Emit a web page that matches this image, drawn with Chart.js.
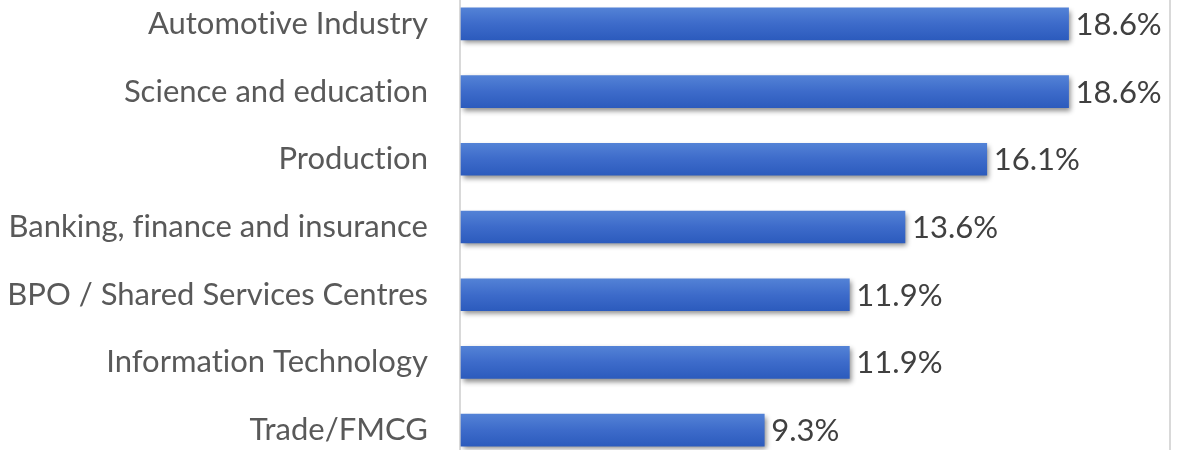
<!DOCTYPE html>
<html>
<head>
<meta charset="utf-8">
<script src="https://cdn.jsdelivr.net/npm/chart.js@4.4.1/dist/chart.umd.min.js"></script>
<style>
  html, body { margin: 0; padding: 0; background: #fff; overflow: hidden; }
  #wrap { position: absolute; left: 0; top: -10px; width: 1179px; height: 474px; }
</style>
</head>
<body>
<div id="wrap"><canvas id="chart"></canvas></div>
<script>
const categories = [
  "Automotive Industry",
  "Science and education",
  "Production",
  "Banking, finance and insurance",
  "BPO / Shared Services Centres",
  "Information Technology",
  "Trade/FMCG"
];
const shares = [18.6, 18.6, 16.1, 13.6, 11.9, 11.9, 9.3];
const xMax = 21.7;

const FONT = "Lato, 'Open Sans', sans-serif";

// gradient per bar, top lighter than bottom
function barFill(c) {
  const chart = c.chart;
  if (!chart.chartArea) return "#3a67c8";
  const y = chart.scales.y.getPixelForValue(c.dataIndex);
  const g = chart.ctx.createLinearGradient(0, y - 16, 0, y + 16);
  g.addColorStop(0, "#5382d6");
  g.addColorStop(0.5, "#3d6bca");
  g.addColorStop(1, "#2c5bbd");
  return g;
}

// no "ti" ligatures, the original font has none
const noLigatures = {
  id: "noLigatures",
  beforeDraw(chart) {
    chart.ctx.letterSpacing = "0.01px";
  }
};

// soft shadow under the bars
const barShadow = {
  id: "barShadow",
  beforeDatasetsDraw(chart) {
    const ctx = chart.ctx;
    ctx.save();
    ctx.shadowColor = "rgba(0,0,0,0.45)";
    ctx.shadowBlur = 5;
    ctx.shadowOffsetX = 2;
    ctx.shadowOffsetY = 3;
  },
  afterDatasetsDraw(chart) {
    chart.ctx.restore();
  }
};

// percent labels at the end of each bar
const valueLabels = {
  id: "valueLabels",
  afterDatasetsDraw(chart) {
    const ctx = chart.ctx;
    ctx.save();
    ctx.font = "31px " + FONT;
    ctx.fillStyle = "#404040";
    ctx.textBaseline = "middle";
    ctx.textAlign = "left";
    chart.getDatasetMeta(0).data.forEach((bar, i) => {
      ctx.fillText(shares[i].toFixed(1) + "%", bar.x + 7, bar.y + 1);
    });
    ctx.restore();
  }
};

new Chart(document.getElementById("chart"), {
  type: "bar",
  data: {
    labels: categories,
    datasets: [{
      data: shares,
      backgroundColor: barFill,
      borderWidth: 0,
      barThickness: 32
    }]
  },
  options: {
    indexAxis: "y",
    responsive: true,
    maintainAspectRatio: false,
    animation: false,
    layout: { padding: { left: 0, right: 9, top: 0, bottom: 0 } },
    plugins: { legend: { display: false }, tooltip: { enabled: false } },
    scales: {
      x: {
        min: 0,
        max: xMax,
        afterBuildTicks(axis) { axis.ticks = [{ value: 0 }, { value: xMax }]; },
        afterFit(axis) { axis.height = 0; axis.paddingLeft = 0; axis.paddingRight = 0; },
        ticks: { display: false },
        grid: { color: "#d9d9d9", lineWidth: 2, drawTicks: false },
        border: { display: false }
      },
      y: {
        afterFit(axis) { axis.width = 460; axis.paddingTop = 0; axis.paddingBottom = 0; },
        grid: { display: false },
        border: { display: false },
        ticks: {
          color: "#595959",
          padding: 24,
          font: { family: FONT, size: 31 }
        }
      }
    }
  },
  plugins: [noLigatures, barShadow, valueLabels]
});
</script>
</body>
</html>
